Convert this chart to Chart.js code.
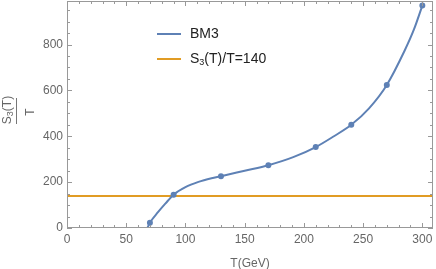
<!DOCTYPE html>
<html>
<head>
<meta charset="utf-8">
<script src="https://cdn.jsdelivr.net/npm/chart.js@4/dist/chart.umd.min.js"></script>
<style>
  body { margin: 0; background: #fff; }
  #wrap { position: relative; width: 436px; height: 269px; font-family: "Liberation Sans", Arial, sans-serif; }
  #legend { position: absolute; left: 157px; top: 23px; font-size: 14px; color: #222; }
  #legend div { height: 25px; line-height: 20px; white-space: nowrap; }
  #legend span.ln { display: inline-block; width: 24px; height: 2px; vertical-align: middle; margin-right: 9px; }
  .rot { position: absolute; transform: translate(-50%, -50%) rotate(-90deg); font-size: 12px; color: #666; white-space: nowrap; line-height: 14px; }
  #bar { position: absolute; left: 16px; top: 98px; width: 1px; height: 26px; background: #777; }
  sub { font-size: 9px; vertical-align: -2px; }
</style>
</head>
<body>
<div id="wrap">
  <canvas id="c" width="436" height="269"></canvas>
  <div id="legend">
    <div><span class="ln" style="background:#5E81B5"></span>BM3</div>
    <div><span class="ln" style="background:#E19C24"></span>S<sub>3</sub>(T)/T=140</div>
  </div>
  <div class="rot" style="left:8px; top:110px">S<sub>3</sub>(T)</div>
  <div id="bar"></div>
  <div class="rot" style="left:30px; top:112px">T</div>
</div>
<script>
// BM3 curve; markers only at the computed temperatures
const temps =   [67.9, 70, 77, 83, 90, 100, 111, 122, 130, 150, 170, 191, 210, 225, 240, 255, 270, 285, 293, 300];
const s3overT = [0, 23, 70, 106, 145, 178, 201, 217, 226, 250, 274, 309, 353, 399, 450, 522, 624, 773, 867, 970];
const markedT = [70, 90, 130, 170, 210, 240, 270, 300];
const refX = [0, 309];
const refY = [140, 140];
const xTicks = [0, 50, 100, 150, 200, 250, 300];
const yTicks = [0, 200, 400, 600, 800];

const frameTicks = {
  id: "frameTicks",
  afterDraw(chart) {
    const ctx = chart.ctx, a = chart.chartArea;
    const xs = chart.scales.x, ys = chart.scales.y;
    ctx.save();
    ctx.strokeStyle = "#999";
    ctx.lineWidth = 1;
    ctx.beginPath();
    for (let v = 0; v <= 309; v += 10) {
      const px = Math.round(xs.getPixelForValue(v)) + 0.5;
      const len = v % 50 === 0 ? 5 : 3;
      ctx.moveTo(px, a.bottom); ctx.lineTo(px, a.bottom - len);
      ctx.moveTo(px, a.top); ctx.lineTo(px, a.top + len);
    }
    for (let v = 0; v <= 990; v += 50) {
      const py = Math.round(ys.getPixelForValue(v)) + 0.5;
      const len = v % 200 === 0 ? 5 : 3;
      ctx.moveTo(a.left, py); ctx.lineTo(a.left + len, py);
      ctx.moveTo(a.right, py); ctx.lineTo(a.right - len, py);
    }
    ctx.stroke();
    ctx.strokeRect(a.left + 0.5, a.top + 0.5, a.right - a.left - 1, a.bottom - a.top - 1);
    ctx.restore();
  }
};

new Chart(document.getElementById("c"), {
  type: "line",
  data: {
    datasets: [
      {
        label: "BM3",
        data: temps.map((t, i) => ({ x: t, y: s3overT[i] })),
        borderColor: "#5E81B5", backgroundColor: "#5E81B5",
        borderWidth: 2, pointHoverRadius: 0,
        pointRadius: temps.map(t => markedT.includes(t) ? 2 : 0),
        cubicInterpolationMode: "monotone", fill: false
      },
      {
        label: "S3(T)/T=140",
        data: refX.map((t, i) => ({ x: t, y: refY[i] })),
        borderColor: "#E19C24", borderWidth: 2, pointRadius: 0, fill: false
      }
    ]
  },
  options: {
    responsive: false,
    animation: false,
    layout: { autoPadding: false, padding: { top: 1, right: 3 } },
    plugins: { legend: { display: false }, tooltip: { enabled: false } },
    scales: {
      x: {
        type: "linear", min: 0, max: 309,
        grid: { display: false, drawTicks: false }, border: { display: false },
        afterBuildTicks: s => { s.ticks = xTicks.map(v => ({ value: v })); },
        afterFit: s => { s.height = 41; s.paddingLeft = 0; s.paddingRight = 0; },
        ticks: { color: "#666", font: { size: 12, family: "Liberation Sans" }, padding: 4, maxRotation: 0 },
        title: { display: true, text: "T(GeV)", color: "#666", font: { size: 12, family: "Liberation Sans" }, padding: { top: 5, bottom: -2 } }
      },
      y: {
        min: 0, max: 990,
        grid: { display: false, drawTicks: false }, border: { display: false },
        afterBuildTicks: s => { s.ticks = yTicks.map(v => ({ value: v })); },
        afterFit: s => { s.width = 67; s.paddingTop = 0; s.paddingBottom = 0; },
        ticks: { color: "#666", font: { size: 12, family: "Liberation Sans" }, padding: 4 }
      }
    }
  },
  plugins: [frameTicks]
});
</script>
</body>
</html>
